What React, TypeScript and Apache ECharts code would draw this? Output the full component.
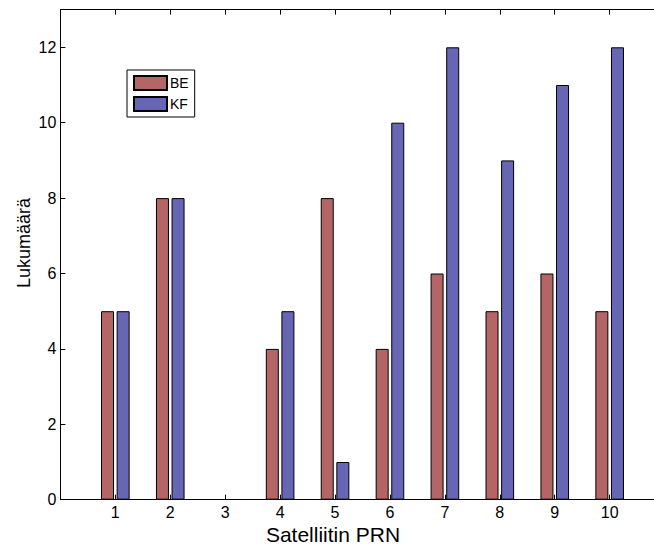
import React, { useEffect, useRef } from "react";
import * as echarts from "echarts";

const prn = [1, 2, 3, 4, 5, 6, 7, 8, 9, 10];
const beValues = [5, 8, 0, 4, 8, 4, 6, 5, 6, 5];
const kfValues = [5, 8, 0, 5, 1, 10, 12, 9, 11, 12];
const seriesNames = ["BE", "KF"];
const xTitle = "Satelliitin PRN";
const yTitle = "Lukumäärä";

export default function App() {
  const ref = useRef<HTMLDivElement>(null);
  useEffect(() => {
    if (!ref.current) return;
    const chart = echarts.init(ref.current, null, { renderer: "svg" });
    const font = "Liberation Sans, Arial, Helvetica, sans-serif";
    const xLabel = (v: number) => (v >= 1 && v <= 10 ? String(v) : "");
    const toData = (vals: number[]) =>
      prn.map((p, i) =>
        vals[i] === 0 ? { value: [p, vals[i]], itemStyle: { borderWidth: 0 } } : { value: [p, vals[i]] }
      );
    chart.setOption({
      animation: false,
      backgroundColor: "#ffffff",
      textStyle: { fontFamily: font },
      grid: { left: 60.4, right: 15.4, top: 9.6, bottom: 44.3, containLabel: false },
      legend: {
        left: 127,
        top: 70,
        orient: "vertical",
        data: seriesNames,
        itemWidth: 33,
        itemHeight: 14,
        itemGap: 5,
        padding: [5, 6, 5, 6],
        borderColor: "#000",
        borderWidth: 1,
        backgroundColor: "#fff",
        icon: "rect",
        textStyle: { fontSize: 14, color: "#000", fontFamily: font, lineHeight: 14, padding: [0, 0, 0, -2] },
      },
      graphic: [
        {
          type: "text",
          x: 333,
          y: 534,
          style: {
            text: xTitle,
            fontSize: 21,
            fontFamily: font,
            fill: "#000",
            align: "center",
            verticalAlign: "middle",
          },
        },
        {
          type: "text",
          x: 24,
          y: 243,
          rotation: Math.PI / 2,
          style: {
            text: yTitle,
            fontSize: 18,
            fontFamily: font,
            fill: "#000",
            align: "center",
            verticalAlign: "middle",
          },
        },
      ],
      xAxis: [
        {
          type: "value",
          min: 0,
          max: 11,
          interval: 1,
          axisLine: { show: true, lineStyle: { color: "#000", width: 1 } },
          axisTick: { show: true, inside: true, length: 5, lineStyle: { color: "#000" } },
          axisLabel: { formatter: xLabel, fontSize: 16, color: "#000", margin: 5, fontFamily: font },
          splitLine: { show: false },
        },
        {
          type: "value",
          position: "top",
          min: 0,
          max: 11,
          interval: 1,
          axisLine: { show: true, lineStyle: { color: "#000", width: 1 } },
          axisTick: { show: true, inside: true, length: 5, lineStyle: { color: "#000" } },
          axisLabel: { show: false },
          splitLine: { show: false },
        },
      ],
      yAxis: [
        {
          type: "value",
          min: 0,
          max: 13,
          interval: 2,
          axisLine: { show: true, lineStyle: { color: "#000", width: 1 } },
          axisTick: { show: true, inside: true, length: 5, lineStyle: { color: "#000" } },
          axisLabel: {
            formatter: (v: number) => (v % 2 === 0 && v <= 12 ? String(v) : ""),
            fontSize: 16,
            color: "#000",
            margin: 4,
            fontFamily: font,
          },
          splitLine: { show: false },
        },
      ],
      series: [
        {
          name: seriesNames[0],
          type: "bar",
          xAxisIndex: 0,
          data: toData(beValues),
          barWidth: 13,
          barGap: "20%",
          itemStyle: { color: "#b46666", borderColor: "#000", borderWidth: 1 },
        },
        {
          name: seriesNames[1],
          type: "bar",
          xAxisIndex: 0,
          data: toData(kfValues),
          barWidth: 13,
          barGap: "20%",
          itemStyle: { color: "#6666b4", borderColor: "#000", borderWidth: 1 },
        },
      ],
    });
    return () => chart.dispose();
  }, []);
  return (
    <div
      ref={ref}
      style={{ position: "fixed", left: 0, top: 0, width: 680, height: 544, background: "#fff" }}
    />
  );
}
